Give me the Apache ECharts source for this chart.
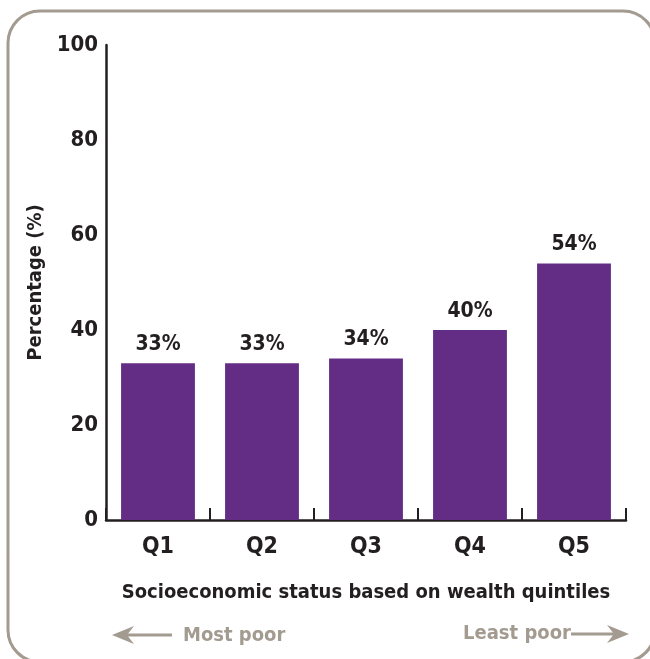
<!DOCTYPE html>
<html><head><meta charset="utf-8">
<script src="https://cdn.jsdelivr.net/npm/echarts@6/dist/echarts.min.js"></script>
<style>html,body{margin:0;padding:0;background:#fff}#c{width:650px;height:659px}</style>
</head><body><div id="c"></div>
<script>
const categories = ['Q1','Q2','Q3','Q4','Q5'];
const values = [33, 33, 34, 40, 54];
const valueLabels = ['33%','33%','34%','40%','54%'];
const yTicks = [0, 20, 40, 60, 80, 100];
const xTitle = 'Socioeconomic status based on wealth quintiles';
const yTitle = 'Percentage (%)';
const leftNote = 'Most poor';
const rightNote = 'Least poor';

const FONT = '"Liberation Sans Narrow", "DejaVu Sans Condensed", "Roboto Condensed", sans-serif';
const DARK = '#231f20';
const GRAY = '#a39a90';
const PURPLE = '#642d85';

const chart = echarts.init(document.getElementById('c'));
chart.setOption({
  animation: false,
  backgroundColor: '#fff',
  grid: {left: 106, right: 24, top: 45, bottom: 139},
  xAxis: {
    type: 'category', data: categories,
    axisLine: {lineStyle: {color: DARK, width: 2.5}},
    axisTick: {show: true, inside: true, length: 12, lineStyle: {color: DARK, width: 2}},
    axisLabel: {color: DARK, fontFamily: FONT, fontWeight: 'bold', fontSize: 23, margin: 16},
    name: xTitle, nameLocation: 'middle', nameGap: 63,
    nameTextStyle: {color: DARK, fontFamily: FONT, fontWeight: 'bold', fontSize: 20}
  },
  yAxis: {
    type: 'value', min: yTicks[0], max: yTicks[yTicks.length-1], interval: 20,
    splitLine: {show: false},
    axisLine: {show: true, lineStyle: {color: DARK, width: 2.5}},
    axisTick: {show: false},
    axisLabel: {color: DARK, fontFamily: FONT, fontWeight: 'bold', fontSize: 22, margin: 8,
      padding: [5, 0, 0, 0]},
    name: yTitle, nameLocation: 'middle', nameGap: 52, nameRotate: 90,
    nameTextStyle: {color: DARK, fontFamily: FONT, fontWeight: 'bold', fontSize: 20}
  },
  series: [{
    type: 'bar', data: values, barWidth: '71%',
    itemStyle: {color: PURPLE},
    label: {show: true, position: 'top', distance: 8, color: DARK, fontFamily: FONT,
      fontWeight: 'bold', fontSize: 21,
      formatter: p => valueLabels[p.dataIndex]}
  }],
  graphic: [
    {type: 'rect', shape: {x: 8, y: 11, width: 647, height: 651, r: 32},
     style: {fill: 'none', stroke: GRAY, lineWidth: 3}, silent: true},
    {type: 'line', shape: {x1: 122, y1: 635, x2: 172, y2: 635}, style: {stroke: GRAY, lineWidth: 3}},
    {type: 'polygon', shape: {points: [[112,635],[134,626],[127,635],[134,644]]}, style: {fill: GRAY}},
    {type: 'text', left: 183, top: 626, style: {text: leftNote, fill: GRAY, font: 'bold 20px ' + FONT}},
    {type: 'text', left: 463, top: 624, style: {text: rightNote, fill: GRAY, font: 'bold 20px ' + FONT}},
    {type: 'line', shape: {x1: 571, y1: 634, x2: 618, y2: 634}, style: {stroke: GRAY, lineWidth: 3}},
    {type: 'polygon', shape: {points: [[629,634],[607,625],[614,634],[607,643]]}, style: {fill: GRAY}}
  ]
});
</script></body></html>
